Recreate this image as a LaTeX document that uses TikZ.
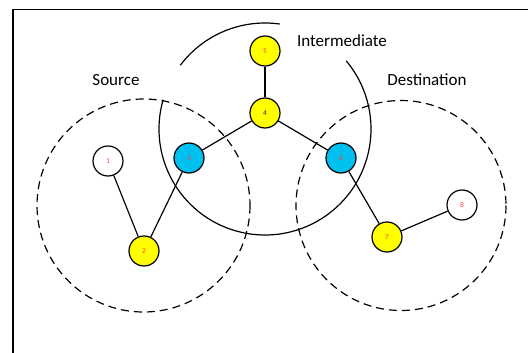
\documentclass[tikz,border=0pt]{standalone}
\usepackage{fontspec}
\setmainfont{Carlito}
\definecolor{nodecyan}{HTML}{00C0F0}
\definecolor{nodeyellow}{HTML}{FFFF00}
\definecolor{numred}{HTML}{FF4040}
\begin{document}
\begin{tikzpicture}[x=1pt,y=-1pt,
  vertex/.style={circle,draw=black,line width=1.2pt,minimum size=30pt,inner sep=0pt,
    font=\fontsize{7.5}{8}\selectfont,text=numred},
  link/.style={line width=1.2pt},
  region/.style={line width=1.2pt,dash pattern=on 8pt off 5pt},
  zone/.style={font=\fontsize{17}{20}\selectfont}]
\useasboundingbox (0,0) rectangle (528,353);
% outer frame
\draw[line width=1.8pt] (13,370) -- (13,9.5) -- (540,9.5);

% source and destination ranges
\draw[region] (143.5,205.5) circle[radius=106.5];
\draw[region] (401,205.5) circle[radius=105];

% intermediate range (two solid arcs)
\coordinate (ic) at (265,129);
\draw[line width=1.2pt] (ic) ++(-82:106) arc[start angle=-82,end angle=-143,radius=106];
\draw[line width=1.2pt] (ic) ++(-164:106) arc[start angle=-164,end angle=-400,radius=106];

% nodes
\node[vertex,fill=white]      (n1) at (108,161) {1};
\node[vertex,fill=nodeyellow] (n2) at (144,251) {2};
\node[vertex,fill=nodecyan]   (n3) at (189,158) {3};
\node[vertex,fill=nodeyellow,text=black!80] (n4) at (265,113) {4};
\node[vertex,fill=nodeyellow] (n5) at (265,51) {5};
\node[vertex,fill=nodecyan]   (n6) at (341,158) {6};
\node[vertex,fill=nodeyellow] (n7) at (387,237) {7};
\node[vertex,fill=white]      (n8) at (462,205) {8};

% links
\draw[link] (n1) -- (n2);
\draw[link] (n2) -- (n3);
\draw[link] (n3) -- (n4);
\draw[link] (n4) -- (n5);
\draw[link] (n4) -- (n6);
\draw[link] (n6) -- (n7);
\draw[link] (n7) -- (n8);

% labels
\node[zone] (src) at (116,80) {Source};
\node[zone] (mid) at (342,41) {Intermediate};
\node[zone] (dst) at (427,80) {Destination};
\end{tikzpicture}
\end{document}
